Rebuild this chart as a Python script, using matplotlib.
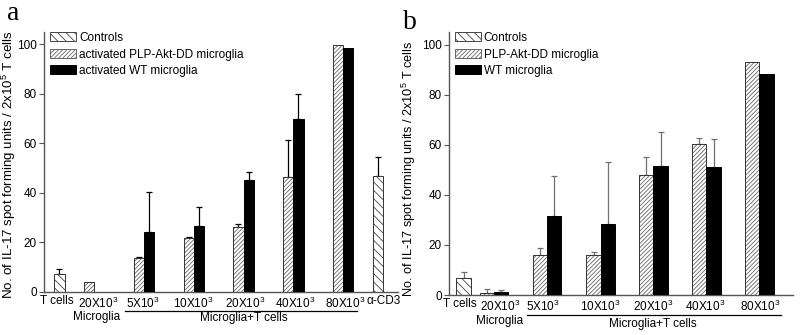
import matplotlib
matplotlib.use("Agg")
import matplotlib.pyplot as plt
from matplotlib.patches import Patch
from matplotlib.transforms import offset_copy

plt.rcParams['font.family'] = ['Liberation Sans', 'DejaVu Sans']
plt.rcParams['mathtext.fontset'] = 'custom'
plt.rcParams['mathtext.rm'] = 'Liberation Sans'
plt.rcParams['mathtext.it'] = 'Liberation Sans'
plt.rcParams['hatch.linewidth'] = 0.6

# ---------------- data: panel a ----------------
a_labels = ["T cells", "20X10$^3$", "5X10$^3$", "10X10$^3$", "20X10$^3$", "40X10$^3$", "80X10$^3$", "α-CD3"]
a_ctrl_vals = [7.2, None, None, None, None, None, None, 46.9]
a_ctrl_err = [2.0, None, None, None, None, None, None, 7.5]
a_plp_vals = [None, 4.0, 13.7, 21.8, 26.1, 46.3, 99.8, None]
a_plp_err = [None, 0.0, 0.6, 0.4, 1.4, 15.1, 0.0, None]
a_wt_vals = [None, None, 24.4, 26.5, 45.3, 69.8, 98.7, None]
a_wt_err = [None, None, 16.1, 7.7, 3.3, 10.1, 0.0, None]
a_legend = ["Controls", "activated PLP-Akt-DD microglia", "activated WT microglia"]

# ---------------- data: panel b ----------------
b_labels = ["T cells", "20X10$^3$", "5X10$^3$", "10X10$^3$", "20X10$^3$", "40X10$^3$", "80X10$^3$"]
b_ctrl_vals = [6.7, None, None, None, None, None, None]
b_ctrl_err = [2.4, None, None, None, None, None, None]
b_plp_vals = [None, 0.7, 15.9, 15.9, 48.0, 60.4, 93.1]
b_plp_err = [None, 1.6, 2.8, 1.4, 7.1, 2.3, 0.0]
b_wt_vals = [None, 1.3, 31.5, 28.4, 51.6, 51.1, 88.3]
b_wt_err = [None, 0.7, 16.2, 24.7, 13.4, 11.2, 0.0]
b_legend = ["Controls", "PLP-Akt-DD microglia", "WT microglia"]

group_label = "Microglia+T cells"
micro_label = "Microglia"
ylabel = "No. of IL-17 spot forming units / 2x10$^5$ T cells"
yticks = [0, 20, 40, 60, 80, 100]

# ---------------- layout ----------------
a_pos = [1.5, 4.9, 9.75, 14.6, 19.45, 24.3, 29.15, 32.55]
b_pos = [1.03, 3.17, 6.87, 10.63, 14.31, 18.02, 21.73]
a_tick_pos = [1.27, 5.3, 9.6, 14.5, 19.6, 24.5, 29.4, 33.1]
b_tick_pos = [0.8, 3.6, 6.6, 10.6, 14.3, 17.9, 21.8]

fig = plt.figure(figsize=(8, 3.35), dpi=100)
axa = fig.add_axes([0.055, 0.1284, 0.4425, 0.776])
axb = fig.add_axes([0.561, 0.1194, 0.430, 0.785])

SPINE = '#555555'
FS = 8.5
CTRL_H = '\\\\\\\\'
PLP_H = '////////'


def draw_bar(ax, x, v, e, kind, errc):
    if v is None:
        return
    if kind == 'ctrl':
        ax.bar(x, v, width=1.0, facecolor='white', edgecolor='#444444',
               hatch=CTRL_H, linewidth=0.0, zorder=2)
        ax.bar(x, v, width=1.0, facecolor='none', edgecolor='#333333',
               linewidth=0.7, zorder=3)
    elif kind == 'plp':
        ax.bar(x, v, width=1.0, facecolor='white', edgecolor='#666666',
               hatch=PLP_H, linewidth=0.0, zorder=2)
        ax.bar(x, v, width=1.0, facecolor='none', edgecolor='#333333',
               linewidth=0.7, zorder=3)
    else:
        ax.bar(x, v, width=1.0, facecolor='black', edgecolor='black',
               linewidth=0.7, zorder=3)
    if e is not None and e > 0:
        ax.errorbar(x, v, yerr=[[0], [e]], fmt='none', ecolor=errc,
                    elinewidth=0.9, capsize=2.4, capthick=0.9, zorder=1)


def panel(ax, pos, tick_pos, labels, cv, ce, pv, pe, wv, we, legend, xlim, errc,
          line_span, line_off, grp_off, micro_off, micro_dx, leg_anchor,
          ylab_xy, ylab_fs):
    for i, x in enumerate(pos):
        if cv[i] is not None:
            draw_bar(ax, x, cv[i], ce[i], 'ctrl', errc)
        draw_bar(ax, x - 0.5, pv[i], pe[i], 'plp', errc)
        draw_bar(ax, x + 0.5, wv[i], we[i], 'wt', errc)
    ax.set_xlim(*xlim)
    ax.set_ylim(0, 105)
    ax.set_yticks(yticks)
    ax.set_xticks(tick_pos)
    ax.set_xticklabels(labels, fontsize=FS)
    ax.tick_params(axis='x', length=0, pad=2.5)
    ax.tick_params(axis='y', direction='out', length=3.5, width=0.8,
                   colors='black', labelsize=FS, pad=1.5, color=SPINE)
    for s in ['top', 'right']:
        ax.spines[s].set_visible(False)
    for s in ['left', 'bottom']:
        ax.spines[s].set_color(SPINE)
        ax.spines[s].set_linewidth(1.0)
    ax.set_ylabel(ylabel, fontsize=ylab_fs)
    ax.yaxis.set_label_coords(*ylab_xy)
    tr = ax.get_xaxis_transform()
    x0 = pos[2] + line_span[0]
    x1 = pos[6] + line_span[1]
    tline = offset_copy(tr, fig=fig, x=0, y=-line_off, units='dots')
    ax.plot([x0, x1], [0, 0], color='black', lw=0.9, transform=tline, clip_on=False)
    ax.annotate(group_label, xy=((pos[2] + pos[6]) / 2, 0), xycoords=tr,
                xytext=(0, -grp_off), textcoords='offset pixels',
                ha='center', va='center', fontsize=FS)
    ax.annotate(micro_label, xy=(pos[1], 0), xycoords=tr,
                xytext=(micro_dx, -micro_off), textcoords='offset pixels',
                ha='center', va='center', fontsize=FS)
    handles = [Patch(facecolor='white', edgecolor='#444444', hatch=CTRL_H, linewidth=0.7),
               Patch(facecolor='white', edgecolor='#666666', hatch=PLP_H, linewidth=0.7),
               Patch(facecolor='black', edgecolor='black', linewidth=0.7)]
    ax.legend(handles, legend, loc='upper left', bbox_to_anchor=leg_anchor,
              frameon=False, fontsize=FS, handlelength=2.2, handleheight=0.8,
              handletextpad=0.25, labelspacing=0.38, borderaxespad=0,
              borderpad=0)


panel(axa, a_pos, a_tick_pos, a_labels, a_ctrl_vals, a_ctrl_err, a_plp_vals, a_plp_err,
      a_wt_vals, a_wt_err, a_legend, (0, 34.5), 'black',
      (-1.85, 1.35), 19, 26, 25.5, 2, (0.017, 1.0), (-0.073, 0.49), 9.6)
panel(axb, b_pos, b_tick_pos, b_labels, b_ctrl_vals, b_ctrl_err, b_plp_vals, b_plp_err,
      b_wt_vals, b_wt_err, b_legend, (0, 24.06), '#707070',
      (-1.42, 1.5), 20, 29, 25.5, 5, (0.017, 1.0), (-0.09, 0.481), 9.2)

fig.text(7 / 800, 1 - 20 / 335, 'a', fontsize=20, family='Liberation Serif',
         ha='left', va='baseline')
fig.text(403 / 800, 1 - 29 / 335, 'b', fontsize=20, family='Liberation Serif',
         ha='left', va='baseline')

fig.savefig('out.png', dpi=100)
